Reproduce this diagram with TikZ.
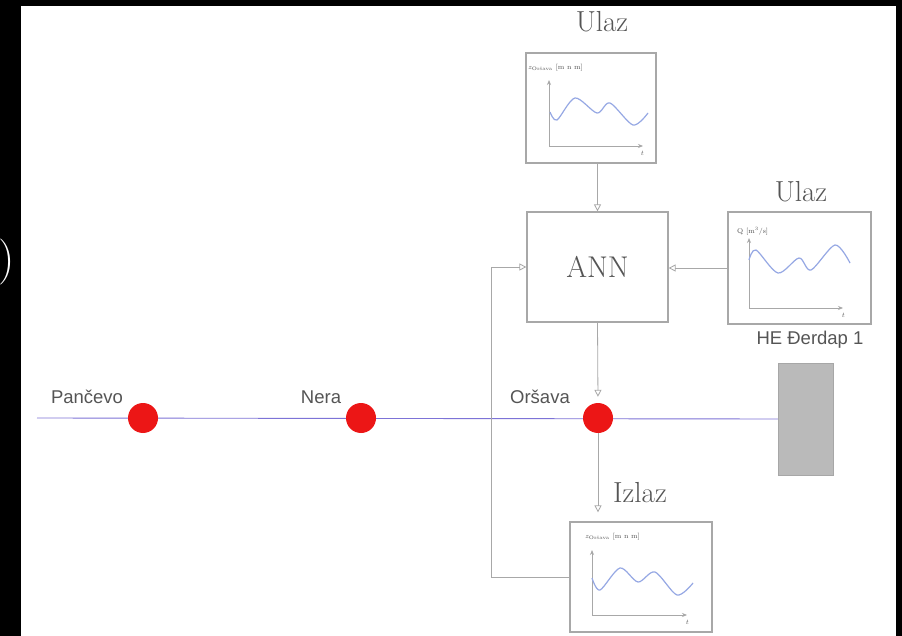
\documentclass[tikz,border=0pt]{standalone}
\usepackage{fontspec}
\setsansfont{Liberation Sans}
\usetikzlibrary{arrows.meta, positioning}
\definecolor{framegray}{RGB}{168,168,168}
\definecolor{riverblue}{RGB}{125,115,215}
\definecolor{stationred}{RGB}{236,22,22}
\definecolor{damgray}{RGB}{186,186,186}
\definecolor{wavecol}{RGB}{150,168,228}
\definecolor{labelgray}{RGB}{85,85,85}
\tikzset{
  panel/.style={rectangle, draw=framegray, line width=1.2pt, fill=white,
    inner sep=0pt},
  station/.style={circle, fill=stationred, minimum size=30pt, inner sep=0pt},
  placelabel/.style={font=\sffamily\fontsize{18.5}{22}\selectfont, text=labelgray},
  iolabel/.style={font=\fontsize{29}{33}\selectfont, text=labelgray},
  flow/.style={-{Triangle[open, length=7pt, width=7pt]}, draw=framegray,
    line width=0.8pt},
  axis/.style={-{Stealth[length=5pt, width=4pt]}, draw=framegray, line width=0.8pt},
  wave/.style={wavecol, line width=1.2pt},
  tinylabel/.style={font=\fontsize{7}{8}\selectfont, text=labelgray, inner sep=0pt},
}

\begin{document}
\begin{tikzpicture}[x=1pt, y=-1pt]

  %% Frame
  \useasboundingbox (0,0) rectangle (902,636);
  \fill[black] (0,0) rectangle (902,636);
  \fill[white] (21,6) rectangle (896,636);
  \node[white, anchor=east, inner sep=0pt, font=\fontsize{46}{50}\selectfont]
    (paren) at (15,262) {)};

  %% Model and inputs / output
  \node[panel, minimum width=130pt, minimum height=110pt] (inZ) at (591,108) {};
  \node[panel, minimum width=141pt, minimum height=110pt,
        font=\fontsize{30}{34}\selectfont, text=labelgray] (ann) at (597.5,267) {ANN};
  \node[panel, minimum width=143pt, minimum height=112pt] (inQ) at (799.5,268) {};
  \node[panel, minimum width=142pt, minimum height=110pt] (outZ) at (641,577) {};

  \node[iolabel] (inZlbl)  at (602,22)  {Ulaz};
  \node[iolabel] (inQlbl)  at (801,192) {Ulaz};
  \node[iolabel] (outZlbl) at (640,493) {Izlaz};

  %% River and stations
  \node[rectangle, fill=damgray, draw=damgray!90!black, line width=0.4pt,
        minimum width=55pt, minimum height=112pt] (dam) at (805.5,419) {};
  \coordinate (src) at (37,418);
  \draw[riverblue, line width=0.9pt] (src) -- (dam.west);

  \node[station] (pan) at (143,418) {};
  \node[station] (ner) at (361,418) {};
  \node[station] (ors) at (598,418) {};

  \node[placelabel] (panlbl) at (87,397)  {Pančevo};
  \node[placelabel] (nerlbl) at (321,397) {Nera};
  \node[placelabel] (orslbl) at (540,397) {Oršava};
  \node[placelabel] (damlbl) at (810,340) {HE Đerdap 1};

  %% Connections
  \draw[flow] (ann.north |- inZ.south) -- (ann.north);
  \draw[flow] (inQ.west) -- (inQ.west -| ann.east);
  \draw[flow, shorten >=6pt] (ann.south) -- (ors.north);
  \draw[flow, shorten >=9pt] (ors.south) -- (ors.south |- outZ.north);
  \draw[flow] (outZ.west) -- ++(-78,0) |- (ann.west);

  %% Small graphs
  \draw[axis] (549,146) -- (549,80);
  \draw[axis] (549,146) -- (643,146);
  \node[tinylabel, anchor=west] (inZax) at (528,68)
    {\textit{z}\textsubscript{Oršava} [m n m]};
  \node[tinylabel] (inZt) at (642,153) {\textit{t}};
  \draw[wave] plot[smooth] coordinates
    {(550,112) (557,120) (575,98) (597,113) (610,103) (633,125) (648,113)};

  \draw[axis] (749,308) -- (749,238);
  \draw[axis] (749,308) -- (843,308);
  \node[tinylabel, anchor=west] (inQax) at (737,231) {Q [m\textsuperscript{3}/s]};
  \node[tinylabel] (inQt) at (843,315) {\textit{t}};
  \draw[wave] plot[smooth] coordinates
    {(749,260) (756,250) (778,273) (799,258) (811,270) (835,245) (850,263)};

  \draw[axis] (592,615) -- (592,550);
  \draw[axis] (592,615) -- (687,615);
  \node[tinylabel, anchor=west] (outZax) at (585,537)
    {\textit{z}\textsubscript{Oršava} [m n m]};
  \node[tinylabel] (outZt) at (687,622) {\textit{t}};
  \draw[wave] plot[smooth] coordinates
    {(592,578) (600,590) (620,568) (638,582) (655,572) (677,595) (693,583)};

\end{tikzpicture}
\end{document}
